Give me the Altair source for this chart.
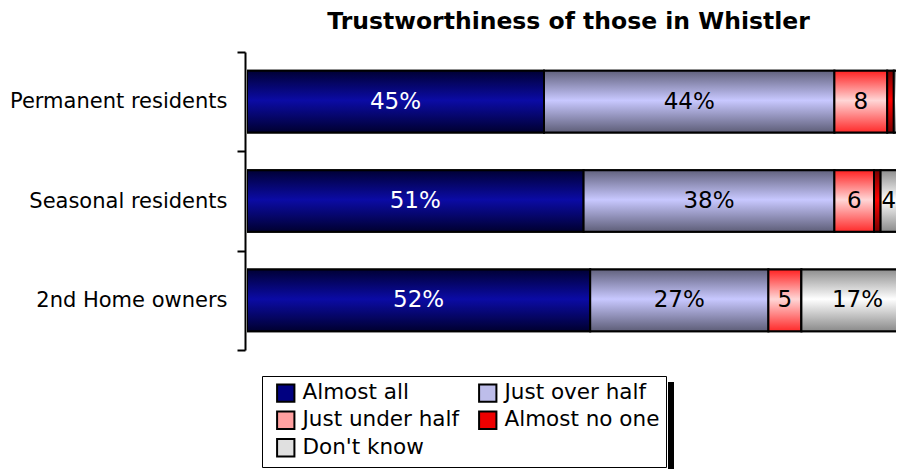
import altair as alt
import pandas as pd

groups = ["Permanent residents", "Seasonal residents", "2nd Home owners"]
series = ["Almost all", "Just over half", "Just under half", "Almost no one", "Don't know"]

almost_all = [45, 51, 52]
just_over_half = [44, 38, 27]
just_under_half = [8, 6, 5]
almost_no_one = [1, 1, 0]
dont_know = [2, 4, 17]

labels_almost_all = ["45%", "51%", "52%"]
labels_just_over_half = ["44%", "38%", "27%"]
labels_just_under_half = ["8", "6", "5"]
labels_almost_no_one = ["", "", ""]
labels_dont_know = ["", "4", "17%"]

values = [almost_all, just_over_half, just_under_half, almost_no_one, dont_know]
labels = [labels_almost_all, labels_just_over_half, labels_just_under_half,
          labels_almost_no_one, labels_dont_know]

rows = []
for gi, g in enumerate(groups):
    start = 0
    for si, s in enumerate(series):
        v = values[si][gi]
        rows.append(dict(group=g, series=s, order=si, value=v,
                         x0=start, x1=start + v, label=labels[si][gi]))
        start += v
df = pd.DataFrame(rows)

solid = ["#000080", "#bdbdea", "#ffa0a0", "#ee0000", "#e0e0e0"]
grads = [
    ["#000035", "#0b0ba5", "#000030"],
    ["#62627e", "#c8c8ff", "#5e5e78"],
    ["#ff2222", "#ffd6d6", "#ff2a2a"],
    ["#7a0000", "#ff0000", "#7a0000"],
    ["#8e8e8e", "#ffffff", "#8a8a8a"],
]

FONT = "DejaVu Sans"
XMAX = 649 / 6.6

y_enc = alt.Y(
    "group:N", sort=groups,
    scale=alt.Scale(paddingInner=0, paddingOuter=0),
    axis=alt.Axis(title=None, domainColor="black", domainWidth=2, tickColor="black",
                  tickWidth=2, tickSize=8, tickBand="extent", labelFontSize=21,
                  labelFont=FONT, labelColor="black", labelPadding=10, offset=2,
                  labelLimit=400),
)
x_scale = alt.Scale(domain=[0, XMAX], nice=False, zero=True)
x_enc = alt.X("x0:Q", scale=x_scale, axis=None)
BAR_H = alt.RelativeBandSize(0.62)

base = alt.Chart(df)

legend_layer = base.mark_bar(stroke="black", strokeWidth=2, clip=True, height=BAR_H).encode(
    y=y_enc, x=x_enc, x2="x1:Q",
    color=alt.Color(
        "series:N", scale=alt.Scale(domain=series, range=solid),
        legend=alt.Legend(
            title=None, orient="none", legendX=15, legendY=324, columns=2,
            direction="horizontal",
            symbolType="square", symbolSize=300, symbolStrokeColor="black",
            symbolStrokeWidth=2, symbolOpacity=1, symbolOffset=7,
            labelFontSize=21.5, labelFont=FONT,
            labelColor="black", labelLimit=400, strokeColor="black", fillColor="white",
            padding=6, rowPadding=1.5, columnPadding=10, labelOffset=6,
        ),
    ),
)

layers = [legend_layer]
for s, g in zip(series, grads):
    grad = alt.Gradient(
        gradient="linear", x1=0, x2=0, y1=0, y2=1,
        stops=[alt.GradientStop(color=g[0], offset=0),
               alt.GradientStop(color=g[1], offset=0.48),
               alt.GradientStop(color=g[2], offset=1)],
    )
    layers.append(
        base.transform_filter(alt.datum.series == s)
        .mark_bar(stroke="black", strokeWidth=2, clip=True, color=grad, height=BAR_H)
        .encode(y=y_enc, x=x_enc, x2="x1:Q")
    )

text_layer = base.transform_calculate(
    mid=f"min((datum.x0 + datum.x1) / 2, {XMAX - 1.1})"
).mark_text(font=FONT, fontSize=23).encode(
    y=y_enc,
    x=alt.X("mid:Q", scale=x_scale, axis=None),
    text="label:N",
    color=alt.condition(alt.datum.series == "Almost all", alt.value("white"), alt.value("black")),
)
layers.append(text_layer)

# drop shadow of the legend box
shadow = alt.Chart(alt.Data(values=[{}])).mark_rect(color="black").encode(
    x=alt.value(421), x2=alt.value(427), y=alt.value(330), y2=alt.value(420)
)
layers.append(shadow)

chart = alt.layer(*layers).properties(
    width=649, height=298,
    autosize=alt.AutoSizeParams(type="none"),
    padding={"left": 239, "top": 44, "right": 0, "bottom": 119},
    title=alt.TitleParams("Trustworthiness of those in Whistler", font=FONT, fontSize=23.5,
                          fontWeight="bold", color="black", anchor="middle", offset=8, dx=-3),
).configure_view(stroke=None)

chart.save("out.html", embed_options={"renderer": "svg", "actions": False})
